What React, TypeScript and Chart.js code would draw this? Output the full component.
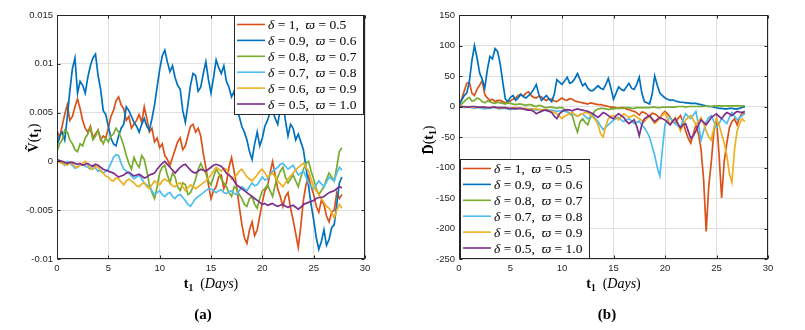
import React, { useEffect, useRef } from "react";
import { Chart, registerables } from "chart.js";

Chart.register(...registerables);

// ---------------- data ----------------
const TIME = [
  0, 0.25, 0.5, 0.75, 1, 1.25, 1.5, 1.75,
  2, 2.25, 2.5, 2.75, 3, 3.25, 3.5, 3.75,
  4, 4.25, 4.5, 4.75, 5, 5.25, 5.5, 5.75,
  6, 6.25, 6.5, 6.75, 7, 7.25, 7.5, 7.75,
  8, 8.25, 8.5, 8.75, 9, 9.25, 9.5, 9.75,
  10, 10.25, 10.5, 10.75, 11, 11.25, 11.5, 11.75,
  12, 12.25, 12.5, 12.75, 13, 13.25, 13.5, 13.75,
  14, 14.25, 14.5, 14.75, 15, 15.25, 15.5, 15.75,
  16, 16.25, 16.5, 16.75, 17, 17.25, 17.5, 17.75,
  18, 18.25, 18.5, 18.75, 19, 19.25, 19.5, 19.75,
  20, 20.25, 20.5, 20.75, 21, 21.25, 21.5, 21.75,
  22, 22.25, 22.5, 22.75, 23, 23.25, 23.5, 23.75,
  24, 24.25, 24.5, 24.75, 25, 25.25, 25.5, 25.75,
  26, 26.25, 26.5, 26.75, 27, 27.25, 27.5, 27.75,
];

const X_TICKS = [0, 5, 10, 15, 20, 25, 30];
const V_TICKS = [-0.01, -0.005, 0, 0.005, 0.01, 0.015];
const D_TICKS = [-250, -200, -150, -100, -50, 0, 50, 100, 150];

// panel (a): values in units of 1e-3
const V_UNIT = 0.001;
const V_D10 = [
  3.2, 2.4, 3.6, 4.8, 5.8, 4.2, 4.6, 5.6,
  6.4, 5.4, 4.2, 3.4, 3.0, 3.6, 2.4, 2.8,
  3.2, 2.2, 2.6, 2.4, 3.4, 4.6, 5.2, 6.2,
  6.6, 5.8, 5.4, 4.2, 4.6, 3.4, 3.8, 4.2,
  4.8, 4.0, 5.6, 4.4, 3.0, 3.4, 2.0, 2.4,
  1.4, 1.8, 0.6, 0.2, -0.4, 0.4, 1.2, 2.0,
  2.4, 1.2, 1.6, 2.6, 3.6, 3.8, 3.0, 3.4,
  2.6, 0.8, -0.6, -2.4, -3.8, -3.0, -2.6, -1.6,
  -1.4, -2.8, -2.2, -0.6, 0.4, -1.0, -2.6, -4.6,
  -6.4, -7.8, -8.4, -7.0, -6.2, -7.6, -7.0, -5.6,
  -4.2, -3.0, -2.6, -1.2, 0.0, -1.4, -2.8, -3.6,
  -4.6, -3.6, -3.2, -4.8, -6.0, -7.4, -8.8, -6.6,
  -4.0, -2.4, -1.6, -2.6, -3.4, -4.6, -5.2, -4.0,
  -4.4, -5.6, -6.2, -5.2, -5.0, -3.2, -3.8, -3.4,
];
const V_D09 = [
  1.5, 2.6, 3.0, 2.2, 4.5, 7.2, 9.5, 10.6,
  7.0, 8.2, 7.8, 7.0, 8.6, 9.8, 10.6, 11.0,
  8.8, 7.4, 5.2, 4.8, 3.6, 2.4, 1.8, 1.6,
  2.6, 3.4, 3.8, 5.6, 5.2, 4.6, 4.0, 3.6,
  3.0, 3.8, 4.4, 3.6, 3.2, 4.4, 5.8, 7.6,
  9.4, 10.8, 11.4, 10.2, 9.2, 9.8, 8.6, 7.8,
  7.4, 5.2, 4.0, 5.8, 7.8, 9.0, 8.8, 7.2,
  7.6, 9.0, 10.2, 8.4, 7.0, 8.6, 10.4, 9.6,
  9.0, 9.8, 8.2, 7.6, 6.6, 7.2, 5.6, 4.6,
  3.6, 3.0, 2.2, 1.0, 0.2, 1.8, 3.0, 1.6,
  2.4, 3.6, 4.2, 5.0, 5.2, 4.4, 3.8, 5.4,
  6.0, 4.2, 2.6, 3.8, 3.4, 2.2, 2.8, 2.0,
  1.2, -0.6, -2.5, -4.4, -6.0, -7.8, -9.0, -8.2,
  -7.0, -8.6, -8.0, -6.8, -6.5, -4.4, -2.2, -1.6,
];
const V_D08 = [
  1.0, 1.8, 2.2, 3.2, 3.0, 2.2, 1.8, 1.2,
  1.0, 1.8, 1.6, 2.4, 2.8, 3.4, 2.2, 2.6,
  3.2, 2.4, 1.8, 2.4, 2.0, 2.6, 2.8, 3.4,
  3.0, 2.4, 1.6, 0.6, -0.2, -0.8, 0.4, -0.2,
  -0.6, 0.6, 0.2, -1.0, -2.4, -3.2, -3.8, -2.6,
  -1.2, -0.6, -0.4, -1.4, -2.2, -1.2, -1.6, -2.6,
  -3.0, -2.2, -2.4, -3.4, -3.2, -2.6, -1.8, -0.8,
  -0.2, -0.8, -1.2, -2.0, -2.4, -1.6, -0.8, -1.2,
  -1.8, -2.2, -2.6, -3.2, -3.6, -2.6, -2.8, -3.4,
  -3.8, -4.4, -4.6, -3.8, -3.6, -4.4, -4.8, -3.8,
  -3.0, -2.8, -2.4, -3.0, -3.6, -2.4, -1.6, -1.0,
  -0.6, -1.6, -2.2, -1.8, -1.4, -2.0, -2.6, -1.6,
  -0.8, -0.2, 0.0, -1.0, -1.8, -2.8, -3.4, -3.0,
  -2.6, -1.8, -1.2, -1.6, -2.0, -0.6, 1.0, 1.4,
];
const V_D07 = [
  0.2, 0.0, -0.2, -0.4, 0.0, -0.2, -0.4, -0.7,
  -0.6, -0.4, -0.3, -0.5, -0.6, -0.8, -0.4, -0.7,
  -1.0, -0.9, -1.2, -1.0, -0.8, -0.2, 0.4, 0.7,
  0.6, -0.2, -0.8, -1.0, -1.2, -1.5, -1.8, -1.6,
  -1.4, -1.8, -2.2, -2.4, -2.6, -3.0, -3.4, -3.2,
  -3.0, -3.4, -3.6, -3.3, -3.2, -3.6, -3.8, -3.5,
  -3.4, -3.7, -4.0, -4.4, -4.6, -4.2, -3.8, -3.6,
  -3.4, -3.2, -3.0, -2.8, -2.8, -3.0, -3.2, -3.0,
  -2.9, -3.2, -3.3, -3.1, -3.0, -3.3, -3.4, -3.0,
  -2.6, -2.8, -3.0, -2.6, -2.2, -2.5, -2.4, -2.0,
  -1.6, -1.9, -1.8, -1.4, -1.0, -0.8, -0.6, -0.3,
  -0.2, -0.5, -0.8, -0.6, -0.4, -0.9, -1.4, -1.2,
  -1.0, -1.6, -2.2, -2.6, -2.8, -2.4, -2.0, -2.3,
  -2.6, -2.1, -1.6, -1.8, -2.0, -1.2, -0.6, -0.9,
];
const V_D06 = [
  0.0, -0.1, -0.2, -0.3, -0.4, -0.1, -0.2, -0.5,
  -0.6, -0.4, -0.2, 0.0, -0.4, -0.7, -0.8, -0.5,
  -0.6, -1.0, -1.2, -1.5, -1.6, -1.9, -2.0, -1.7,
  -1.8, -2.1, -2.4, -2.0, -1.8, -2.0, -2.2, -2.5,
  -2.6, -2.3, -2.2, -2.6, -2.8, -2.4, -2.0, -2.2,
  -2.4, -2.0, -1.8, -2.0, -2.2, -2.5, -2.6, -2.3,
  -2.2, -2.6, -3.0, -2.7, -2.4, -2.6, -2.8, -2.6,
  -2.4, -2.2, -2.0, -1.7, -1.4, -1.0, -0.6, -0.8,
  -1.0, -0.7, -0.8, -1.3, -1.8, -1.6, -1.4, -1.0,
  -0.8, -1.2, -1.6, -1.8, -2.0, -1.7, -1.4, -1.0,
  -0.8, -1.2, -1.6, -1.4, -1.2, -1.6, -2.0, -2.3,
  -2.6, -2.2, -1.8, -1.5, -1.2, -0.9, -0.6, -0.4,
  -0.2, -0.6, -1.0, -1.8, -2.6, -3.0, -3.4, -3.8,
  -4.2, -4.6, -4.8, -5.2, -5.8, -5.0, -4.4, -4.8,
];
const V_D05 = [
  0.2, 0.1, 0.0, -0.1, -0.2, -0.1, -0.1, -0.2,
  -0.3, -0.2, -0.4, -0.3, -0.2, -0.4, -0.5, -0.3,
  -0.4, -0.6, -0.8, -0.9, -1.0, -1.1, -1.2, -1.4,
  -1.6, -1.5, -1.4, -1.2, -1.1, -1.3, -1.5, -1.4,
  -1.3, -1.5, -1.7, -1.6, -1.4, -1.3, -1.2, -0.8,
  -0.5, -0.2, 0.0, -0.3, -0.6, -0.9, -1.2, -0.9,
  -0.6, -0.4, -0.3, -0.6, -0.9, -1.1, -1.2, -1.0,
  -0.8, -0.9, -1.0, -0.8, -0.6, -0.4, -0.3, -0.4,
  -0.5, -0.8, -1.2, -1.4, -1.6, -2.0, -2.4, -2.6,
  -2.8, -3.0, -3.2, -3.4, -3.6, -3.8, -4.0, -4.2,
  -4.4, -4.3, -4.5, -4.4, -4.3, -4.5, -4.6, -4.5,
  -4.4, -4.6, -4.7, -4.6, -4.5, -4.7, -4.9, -4.7,
  -4.4, -4.3, -4.2, -4.1, -4.0, -3.8, -3.7, -3.7,
  -3.6, -3.4, -3.2, -3.1, -3.0, -2.8, -2.6, -2.7,
];

// panel (b)
const D_D10 = [
  2, 12, 25, 38, 40, 22, 18, 28,
  35, 42, 20, 14, 10, 12, 8, 10,
  10, 8, 6, 8, 9, 12, 14, 18,
  20, 17, 22, 24, 18, 15, 14, 17,
  16, 12, 10, 13, 12, 9, 8, 11,
  14, 11, 10, 13, 12, 9, 8, 7,
  6, 5, 4, 6, 5, 4, 3, 3,
  2, 1, 0, -1, -1, -2, -3, -2,
  -2, -4, -5, -7, -8, -10, -14, -9,
  -10, -13, -16, -11, -12, -15, -20, -12,
  -8, -12, -18, -24, -28, -20, -15, -25,
  -40, -52, -60, -45, -30, -45, -70, -120,
  -205, -130, -90, -40, -20, -80, -150, -90,
  -60, -35, -25, -20, -30, -18, -10, -12,
];
const D_D09 = [
  2, 10, 18, 22, 40, 75, 100, 80,
  55, 45, 30, 60, 82, 78, 95, 90,
  70, 40, 12, 8, 15, 18, 10, 14,
  20, 16, 14, 18, 22, 28, 36, 20,
  10, 14, 18, 12, 8, 20, 44, 40,
  36, 42, 48, 38, 40, 46, 54, 44,
  34, 38, 30, 26, 26, 30, 34, 30,
  28, 36, 46, 30, 12, 22, 32, 28,
  26, 32, 38, 30, 28, 36, 48, 22,
  8, 6, 4, 20, 50, 35, 22, 18,
  14, 12, 10, 11, 9, 8, 7, 7,
  6, 6, 5, 5, 5, 4, 3, 2,
  1, 0, 0, -1, -2, -3, -3, -4,
  -4, -3, -3, -4, -4, -3, -1, -1,
];
const D_D08 = [
  0, 4, 8, 12, 15, 9, 10, 14,
  12, 8, 6, 9, 8, 6, 5, 7,
  6, 5, 4, 6, 5, 4, 3, 4,
  4, 3, 2, 3, 3, 1, 0, 2,
  1, -1, -2, -1, -1, -2, -3, -2,
  -2, -5, -8, -12, -15, -30, -42, -25,
  -20, -26, -30, -18, -12, -6, -4, -3,
  -3, -4, -5, -4, -4, -3, -3, -3,
  -3, -2, -2, -3, -3, -2, -2, -2,
  -2, -2, -2, -1, -1, -2, -2, -1,
  -1, -1, -1, -1, -1, 0, 0, 0,
  -1, 0, 0, 0, 0, 0, 0, 0,
  1, 0, 0, 1, 1, 1, 1, 1,
  1, 1, 1, 1, 1, 1, 1, 1,
];
const D_D07 = [
  0, -1, -2, -1, -1, -2, -3, -2,
  -2, -3, -4, -3, -3, -2, -2, -3,
  -4, -3, -3, -4, -5, -4, -4, -3,
  -3, -4, -5, -4, -4, -5, -6, -5,
  -5, -6, -7, -6, -6, -7, -8, -7,
  -7, -8, -9, -11, -12, -14, -16, -13,
  -12, -16, -20, -17, -15, -20, -25, -32,
  -38, -34, -30, -26, -22, -20, -18, -22,
  -25, -22, -20, -24, -28, -26, -24, -30,
  -35, -42, -50, -65, -80, -100, -114, -70,
  -30, -22, -18, -24, -28, -32, -35, -22,
  -12, -16, -20, -14, -8, -30, -55, -40,
  -25, -18, -15, -25, -35, -28, -20, -24,
  -28, -18, -10, -16, -22, -18, -15, -12,
];
const D_D06 = [
  0, 0, -1, 0, 0, -1, -1, -1,
  -2, -1, -1, -2, -2, -1, -1, -2,
  -3, -2, -2, -3, -3, -2, -2, -3,
  -4, -3, -3, -4, -5, -4, -4, -5,
  -6, -5, -5, -7, -8, -10, -12, -16,
  -20, -16, -14, -11, -10, -13, -16, -14,
  -12, -10, -10, -14, -18, -22, -30, -45,
  -50, -32, -20, -16, -15, -18, -22, -16,
  -12, -15, -18, -16, -14, -17, -20, -23,
  -25, -20, -16, -22, -28, -24, -20, -14,
  -10, -20, -30, -24, -18, -28, -40, -30,
  -22, -18, -15, -22, -30, -24, -18, -28,
  -40, -50, -55, -35, -20, -30, -45, -60,
  -80, -110, -125, -70, -40, -28, -20, -25,
];
const D_D05 = [
  0, 0, 0, -1, -1, 0, 0, -1,
  -1, -1, -1, -2, -2, -1, -1, -2,
  -2, -2, -2, -3, -3, -3, -4, -3,
  -3, -4, -5, -6, -6, -8, -12, -10,
  -8, -6, -6, -8, -10, -16, -20, -12,
  -8, -6, -5, -6, -7, -5, -4, -5,
  -6, -7, -8, -10, -12, -15, -18, -14,
  -10, -12, -15, -18, -20, -15, -12, -15,
  -18, -24, -28, -25, -22, -32, -48, -30,
  -20, -17, -15, -20, -25, -21, -18, -20,
  -22, -26, -30, -24, -20, -28, -35, -30,
  -28, -40, -52, -48, -40, -30, -22, -26,
  -30, -24, -18, -15, -12, -16, -20, -14,
  -10, -12, -15, -11, -8, -9, -10, -8,
];

const DELTA = ["1", "0.9", "0.8", "0.7", "0.6", "0.5"];
const VARPI = ["0.5", "0.6", "0.7", "0.8", "0.9", "1.0"];
const COLORS = ["#D95319", "#0072BD", "#77AC30", "#4DBEEE", "#EDB120", "#7E2F8E"];

// ---------------- drawing helpers ----------------
const SERIF = "'Liberation Serif', 'DejaVu Serif', serif";
const SANS = "'Liberation Sans', Arial, sans-serif";
const AX = "#262626";

type Seg = { t: string; f: string; dy?: number };

function richWidth(ctx: CanvasRenderingContext2D, segs: Seg[]) {
  let w = 0;
  segs.forEach((s) => { ctx.font = s.f; w += ctx.measureText(s.t).width; });
  return w;
}
function drawRich(ctx: CanvasRenderingContext2D, segs: Seg[], x: number, baseY: number, align: "left" | "center") {
  let cx = align === "center" ? x - richWidth(ctx, segs) / 2 : x;
  ctx.textAlign = "left";
  ctx.textBaseline = "alphabetic";
  segs.forEach((s) => {
    ctx.font = s.f;
    ctx.fillText(s.t, cx, baseY + (s.dy || 0));
    cx += ctx.measureText(s.t).width;
  });
}

type PanelCfg = {
  series: number[][];
  unit: number;
  yMin: number;
  yMax: number;
  yTicks: number[];
  yAxisWidth: number;
  padRight: number;
  legendCorner: "ne" | "sw";
  yTitle: Seg[];
  yTitlePos: [number, number];
  label: string;
  labelX: number;
};

function makePanel(canvas: HTMLCanvasElement, cfg: PanelCfg) {
  const decorPlugin = {
    id: "decor",
    afterDatasetsDraw(chart: any) {
      const { ctx, chartArea: a, scales } = chart;
      const x = scales.x, y = scales.y;
      ctx.save();
      ctx.strokeStyle = AX;
      ctx.lineWidth = 1;
      const L = Math.round(a.left) + 0.5, R = Math.round(a.right) - 0.5;
      const T = Math.round(a.top) + 0.5, B = Math.round(a.bottom) - 0.5;
      ctx.strokeRect(L, T, R - L, B - T);
      ctx.beginPath();
      const tl = 3;
      x.ticks.forEach((t: any) => {
        const px = Math.round(x.getPixelForValue(t.value)) + 0.5;
        ctx.moveTo(px, B); ctx.lineTo(px, B - tl);
        ctx.moveTo(px, T); ctx.lineTo(px, T + tl);
      });
      y.ticks.forEach((t: any) => {
        const py = Math.round(y.getPixelForValue(t.value)) + 0.5;
        ctx.moveTo(L, py); ctx.lineTo(L + tl, py);
        ctx.moveTo(R, py); ctx.lineTo(R - tl, py);
      });
      ctx.stroke();
      ctx.restore();
    },
    afterDraw(chart: any) {
      const { ctx, chartArea: a } = chart;
      ctx.save();
      // legend
      const bw = 129, bh = 99;
      const bx = cfg.legendCorner === "ne" ? Math.round(a.right) - 2 - bw : Math.round(a.left) + 1;
      const by = cfg.legendCorner === "ne" ? Math.round(a.top) : Math.round(a.bottom) - 1 - bh;
      ctx.fillStyle = "#ffffff";
      ctx.fillRect(bx, by, bw, bh);
      ctx.strokeStyle = AX;
      ctx.lineWidth = 1;
      ctx.strokeRect(bx + 0.5, by + 0.5, bw, bh);
      DELTA.forEach((d, i) => {
        const cy = by + 9.5 + i * 15.9;
        ctx.strokeStyle = COLORS[i];
        ctx.lineWidth = 1.6;
        ctx.beginPath();
        ctx.moveTo(bx + 3, cy);
        ctx.lineTo(bx + 31, cy);
        ctx.stroke();
        ctx.fillStyle = "#000";
        const fs = 13.5;
        drawRich(ctx, [
          { t: "\u03b4", f: `italic ${fs}px ${SERIF}` },
          { t: " = " + d + ",  ", f: `${fs}px ${SERIF}` },
          { t: "\u03d6", f: `italic ${fs}px ${SERIF}` },
          { t: " = " + VARPI[i], f: `${fs}px ${SERIF}` },
        ], bx + 34, cy + 4.5, "left");
      });
      // x title
      ctx.fillStyle = "#000";
      const cxm = (a.left + a.right) / 2;
      drawRich(ctx, [
        { t: "t", f: `bold 14px ${SERIF}` },
        { t: "1", f: `bold 9.5px ${SERIF}`, dy: 3 },
        { t: "  (", f: `14px ${SERIF}` },
        { t: "Days", f: `italic 14px ${SERIF}` },
        { t: ")", f: `14px ${SERIF}` },
      ], cxm, 288, "center");
      // y title
      ctx.save();
      ctx.translate(cfg.yTitlePos[0], cfg.yTitlePos[1]);
      ctx.rotate(-Math.PI / 2);
      drawRich(ctx, cfg.yTitle, 0, 5, "center");
      ctx.restore();
      // panel label
      ctx.font = `bold 15px ${SERIF}`;
      ctx.textAlign = "center";
      ctx.textBaseline = "middle";
      ctx.fillText(cfg.label, cfg.labelX, 315);
      ctx.restore();
    },
  };

  const datasets = cfg.series.map((arr, i) => ({
    label: "\u03b4 = " + DELTA[i] + ", \u03d6 = " + VARPI[i],
    data: TIME.map((t, k) => ({ x: t, y: arr[k] * cfg.unit })),
    borderColor: COLORS[i],
    backgroundColor: COLORS[i],
    borderWidth: 1.7,
    pointRadius: 0,
    tension: 0,
    fill: false,
    order: cfg.series.length - i,
  }));

  return new Chart(canvas, {
    type: "line",
    data: { datasets },
    plugins: [decorPlugin],
    options: {
      responsive: false,
      animation: false,
      devicePixelRatio: 1,
      layout: { padding: { top: 15, right: cfg.padRight, left: 0, bottom: 0 } },
      plugins: { legend: { display: false }, tooltip: { enabled: false } },
      scales: {
        x: {
          type: "linear",
          min: 0,
          max: 30,
          afterBuildTicks: (s: any) => { s.ticks = X_TICKS.map((v) => ({ value: v })); },
          afterFit: (s: any) => { s.height = 71; },
          grid: { color: "#dfdfdf", drawTicks: false },
          border: { display: false },
          ticks: { padding: 4, color: AX, font: { family: SANS, size: 9.5 }, maxRotation: 0, autoSkip: false, callback: (v: any) => String(v) },
        },
        y: {
          type: "linear",
          min: cfg.yMin,
          max: cfg.yMax,
          afterBuildTicks: (s: any) => { s.ticks = cfg.yTicks.map((v) => ({ value: v })); },
          afterFit: (s: any) => { s.width = cfg.yAxisWidth; },
          grid: { color: "#dfdfdf", drawTicks: false },
          border: { display: false },
          ticks: { padding: 4, color: AX, font: { family: SANS, size: 9.5 }, autoSkip: false, callback: (v: any) => String(v) },
        },
      },
    } as any,
  });
}

export default function App() {
  const leftRef = useRef<HTMLCanvasElement>(null);
  const rightRef = useRef<HTMLCanvasElement>(null);

  useEffect(() => {
    document.body.style.margin = "0";
    const c1 = makePanel(leftRef.current!, {
      series: [V_D10, V_D09, V_D08, V_D07, V_D06, V_D05],
      unit: V_UNIT,
      yMin: -0.01,
      yMax: 0.015,
      yTicks: V_TICKS,
      yAxisWidth: 57,
      padRight: 35,
      legendCorner: "ne",
      yTitle: [
        { t: "V\u0303", f: `bold 14px ${SERIF}` },
        { t: "(", f: `14px ${SERIF}` },
        { t: "t", f: `bold 14px ${SERIF}` },
        { t: "1", f: `bold 9.5px ${SERIF}`, dy: 3 },
        { t: ")", f: `14px ${SERIF}` },
      ],
      yTitlePos: [33, 138],
      label: "(a)",
      labelX: 203,
    });
    const c2 = makePanel(rightRef.current!, {
      series: [D_D10, D_D09, D_D08, D_D07, D_D06, D_D05],
      unit: 1,
      yMin: -250,
      yMax: 150,
      yTicks: D_TICKS,
      yAxisWidth: 59,
      padRight: 37,
      legendCorner: "sw",
      yTitle: [
        { t: "D\u0304", f: `bold 14px ${SERIF}` },
        { t: "(", f: `14px ${SERIF}` },
        { t: "t", f: `bold 14px ${SERIF}` },
        { t: "1", f: `bold 9.5px ${SERIF}`, dy: 3 },
        { t: ")", f: `14px ${SERIF}` },
      ],
      yTitlePos: [28, 140],
      label: "(b)",
      labelX: 207,
    });
    return () => { c1.destroy(); c2.destroy(); };
  }, []);

  return (
    <div style={{ position: "relative", width: 805, height: 330, background: "#fff" }}>
      <canvas ref={leftRef} width={400} height={330} style={{ position: "absolute", left: 0, top: 0, width: 400, height: 330 }} />
      <canvas ref={rightRef} width={405} height={330} style={{ position: "absolute", left: 400, top: 0, width: 405, height: 330 }} />
    </div>
  );
}
